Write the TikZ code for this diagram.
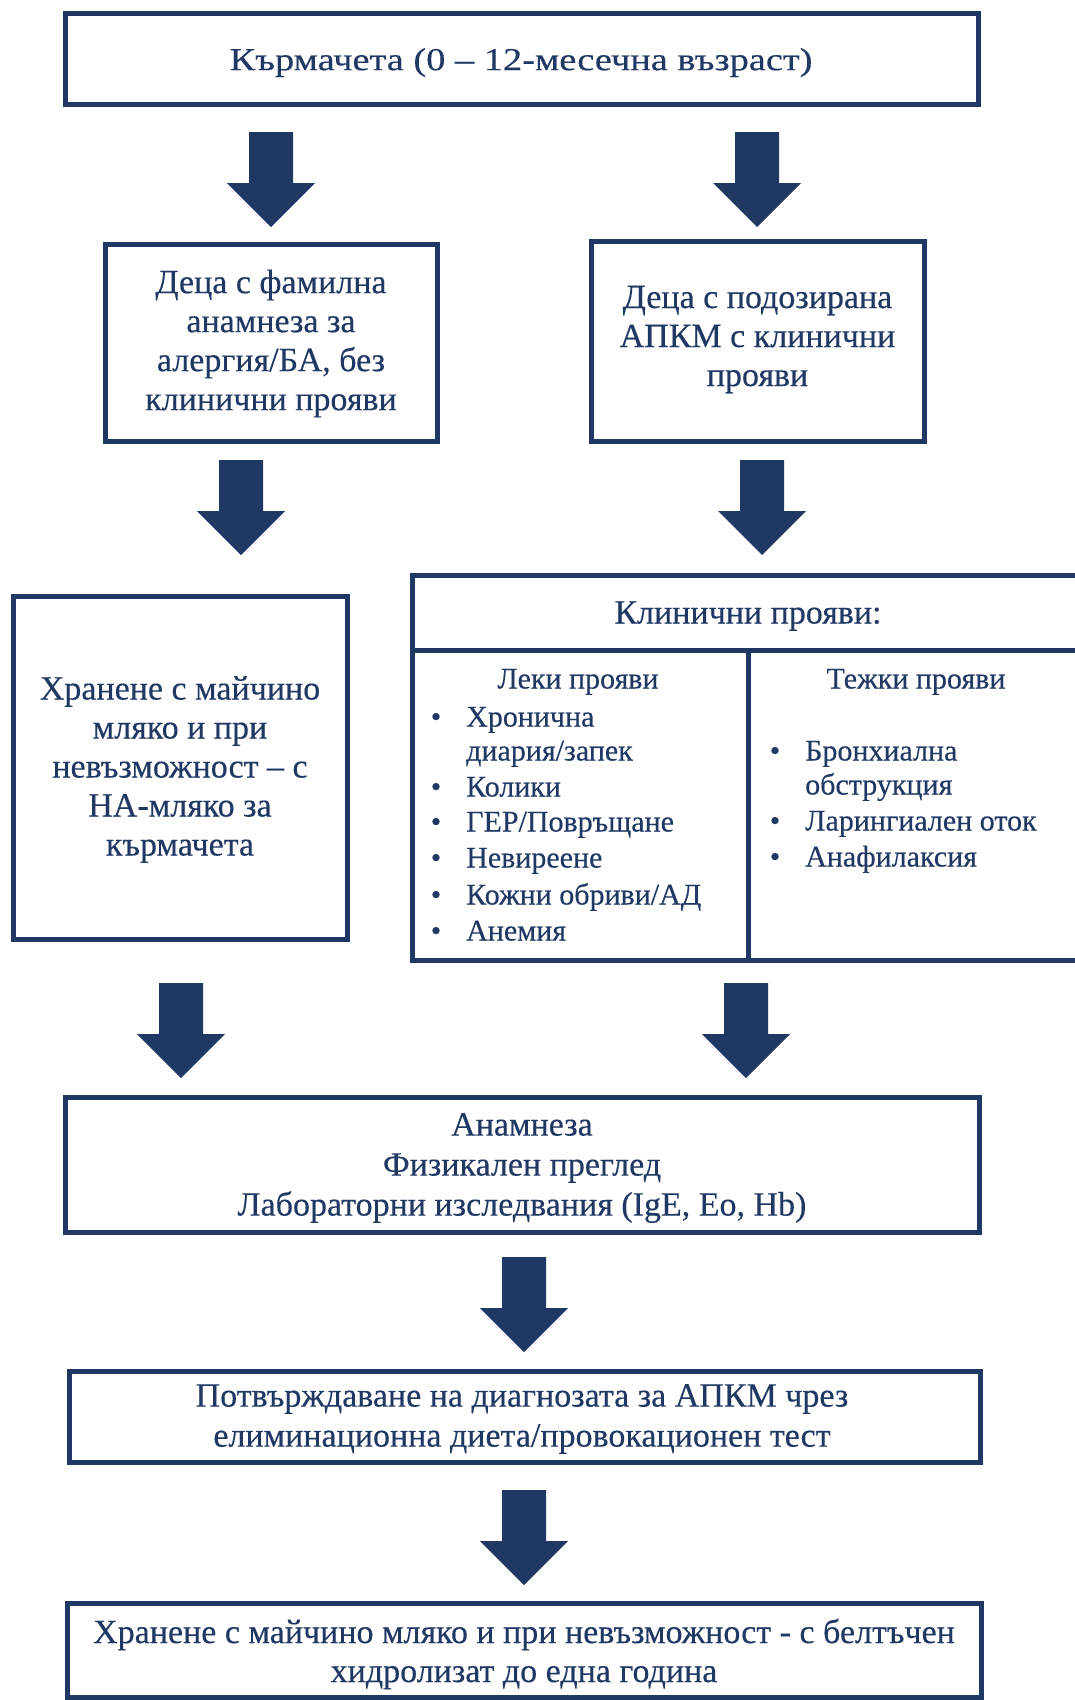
\documentclass[tikz,border=0pt]{standalone}
\usepackage{fontspec}
\setmainfont[FakeBold=0.3]{Liberation Serif}
\newfontfamily\widefont[FakeStretch=1.2,FakeBold=0.3]{Liberation Serif}
\definecolor{navy}{HTML}{1F3864}
\newcommand\blockarrow[2]{\fill[navy] (#1-22,#2) -- (#1+22,#2) -- (#1+22,#2+51) -- (#1+44,#2+51) -- (#1,#2+95) -- (#1-44,#2+51) -- (#1-22,#2+51) -- cycle;}
\begin{document}
\begin{tikzpicture}[x=1pt,y=-1pt,
  box/.style={draw=navy, line width=5pt, inner sep=0pt, text=navy, align=center,
    font=\fontsize{34}{39}\selectfont},
  lbl/.style={text=navy, align=center, inner sep=0pt, font=\fontsize{34}{39}\selectfont},
  item/.style={text=navy, anchor=west, inner sep=0pt, font=\fontsize{30}{35}\selectfont,
    text height=20pt, text depth=6pt},
  bul/.style={text=navy, inner sep=0pt, font=\fontsize{30}{35}\selectfont,
    text height=20pt, text depth=6pt}]
\fill[white] (0,0) rectangle (1075,1700);
\clip (0,0) rectangle (1075,1700);

% top box
\node[box, minimum width=913pt, minimum height=91pt] (top) at (521.5,58.5) {};
\node[lbl, font=\widefont\fontsize{32}{39}\selectfont] (toptext) at (521,62.5)
  {Кърмачета (0 – 12-месечна възраст)};

\blockarrow{271}{132}
\blockarrow{757}{132}

% second row
\node[box, minimum width=332pt, minimum height=197pt] (famil) at (271,342.5) {};
\node[lbl] (familtext) at (271,343.5)
  {Деца с фамилна\\анамнеза за\\алергия/БА, без\\клинични прояви};
\node[box, minimum width=333pt, minimum height=200pt] (susp) at (757.5,341) {};
\node[lbl] (susptext) at (757.5,339.5)
  {Деца с подозирана\\АПКМ с клинични\\прояви};

\blockarrow{241}{460}
\blockarrow{762}{460}

% third row left
\node[box, minimum width=334pt, minimum height=343pt] (feed) at (180,767.5) {};
\node[lbl] (feedtext) at (180,769.5)
  {Хранене с майчино\\мляко и при\\невъзможност – с\\НА-мляко за\\кърмачета};

% clinical table
\node[box, minimum width=683pt, minimum height=75pt] (clinhead) at (753.5,612.5) {};
\node[box, minimum width=336pt, minimum height=310pt] (mild) at (580,805) {};
\node[box, minimum width=347pt, minimum height=310pt] (severe) at (921.5,805) {};
\node[lbl] (clintitle) at (748,616) {Клинични прояви:};

\node[bul] (mildtitle) at (578,681.5) {Леки прояви};
\node[bul] (m1b) at (436,719.5) {•};
\node[item] (m1) at (466,719.5) {Хронична};
\node[item] (m1c) at (466,753.5) {диария/запек};
\node[bul] (m2b) at (436,789.5) {•};
\node[item] (m2) at (466,789.5) {Колики};
\node[bul] (m3b) at (436,824.5) {•};
\node[item] (m3) at (466,824.5) {ГЕР/Повръщане};
\node[bul] (m4b) at (436,860.5) {•};
\node[item] (m4) at (466,860.5) {Невиреене};
\node[bul] (m5b) at (436,897.5) {•};
\node[item] (m5) at (466,897.5) {Кожни обриви/АД};
\node[bul] (m6b) at (436,933.5) {•};
\node[item] (m6) at (466,933.5) {Анемия};

\node[bul] (sevtitle) at (916,681.5) {Тежки прояви};
\node[bul] (s1b) at (775,753.5) {•};
\node[item] (s1) at (805,753.5) {Бронхиална};
\node[item] (s1c) at (805,787.5) {обструкция};
\node[bul] (s2b) at (775,823.5) {•};
\node[item] (s2) at (805,823.5) {Ларингиален оток};
\node[bul] (s3b) at (775,859.5) {•};
\node[item] (s3) at (805,859.5) {Анафилаксия};

\blockarrow{181}{983}
\blockarrow{746}{983}

% anamnesis
\node[box, minimum width=914pt, minimum height=135pt] (anam) at (522,1164.5) {};
\node[lbl, font=\fontsize{34}{40}\selectfont] (anamtext) at (522,1168)
  {Анамнеза\\Физикален преглед\\Лабораторни изследвания (IgE, Eo, Hb)};

\blockarrow{524}{1257}

\node[box, minimum width=911pt, minimum height=91pt] (confirm) at (524.5,1416.5) {};
\node[lbl, font=\fontsize{34}{40}\selectfont] (confirmtext) at (522,1419)
  {Потвърждаване на диагнозата за АПКМ чрез\\елиминационна диета/провокационен тест};

\blockarrow{524}{1490}

\node[box, minimum width=914pt, minimum height=94pt] (final) at (524,1650) {};
\node[lbl, font=\fontsize{34}{39}\selectfont] (finaltext) at (524,1654)
  {Хранене с майчино мляко и при невъзможност - с белтъчен\\хидролизат до една година};
\end{tikzpicture}
\end{document}
